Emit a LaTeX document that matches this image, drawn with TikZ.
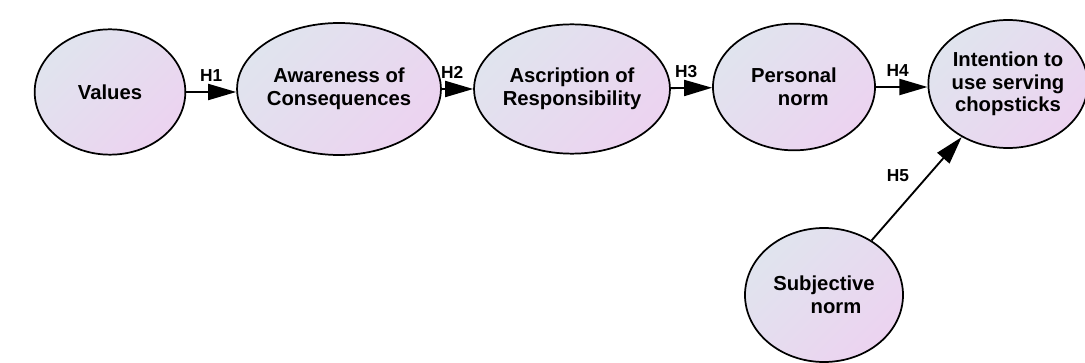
\documentclass[tikz,border=0pt]{standalone}
\usepackage{fontspec}
\setmainfont{Liberation Sans}
\usepackage{tikz}
\usetikzlibrary{shapes.geometric, arrows.meta}

\definecolor{leftfill}{HTML}{E0E4EE}
\definecolor{rightfill}{HTML}{ECD3F0}

\begin{document}
\begin{tikzpicture}[x=0.75pt, y=-0.75pt,
		construct/.style={ellipse, draw=black, line width=1.3pt, inner sep=0pt,
			left color=leftfill, right color=rightfill, shading angle=45,
			font=\fontsize{15.2pt}{17pt}\selectfont\bfseries},
		path/.style={line width=1.4pt, -{Triangle[length=21pt, width=12pt]}},
		hyp/.style={font=\fontsize{13pt}{15pt}\selectfont\bfseries, inner sep=2pt}]
			\useasboundingbox (0,0) rectangle (1085,363);
			
			% Constructs
			\node[construct, minimum width=113pt, minimum height=94pt] (values) at (110,92) {Values};
			\node[construct, minimum width=126pt, minimum height=99pt, align=center] (awareness) at (339,89) {Awareness of\\Consequences};
			\node[construct, minimum width=121pt, minimum height=97pt, align=center] (ascription) at (572,89) {Ascription of\\Responsibility};
			\node[construct, minimum width=121.5pt, minimum height=95pt, align=left] (personal) at (794,87) {Personal\\\hspace{20pt}norm};
			\node[construct, minimum width=112.5pt, minimum height=96pt, align=center] (intention) at (1008,84) {Intention to\\use serving\\chopsticks};
			\node[construct, minimum width=118.5pt, minimum height=100.5pt, align=left] (subjective) at (824,295) {Subjective\\\hspace{28pt}norm};
			
			% Hypotheses
			\draw[path] (values.east |- 0,92) -- (awareness.west |- 0,92) node[hyp, midway, above=5pt] {H1};
			\draw[path] (awareness) -- (ascription) node[hyp, midway, above=5pt, xshift=-4pt] {H2};
			\draw[path] (ascription) -- (personal) node[hyp, midway, above=5pt, xshift=-4pt] {H3};
			\draw[path] (personal) -- (intention.west |- personal) node[hyp, midway, above=5pt, xshift=-3pt] {H4};
			\draw[path] (subjective) -- (intention) node[hyp, midway, above left=3pt] {H5};
		\end{tikzpicture}
\end{document}
